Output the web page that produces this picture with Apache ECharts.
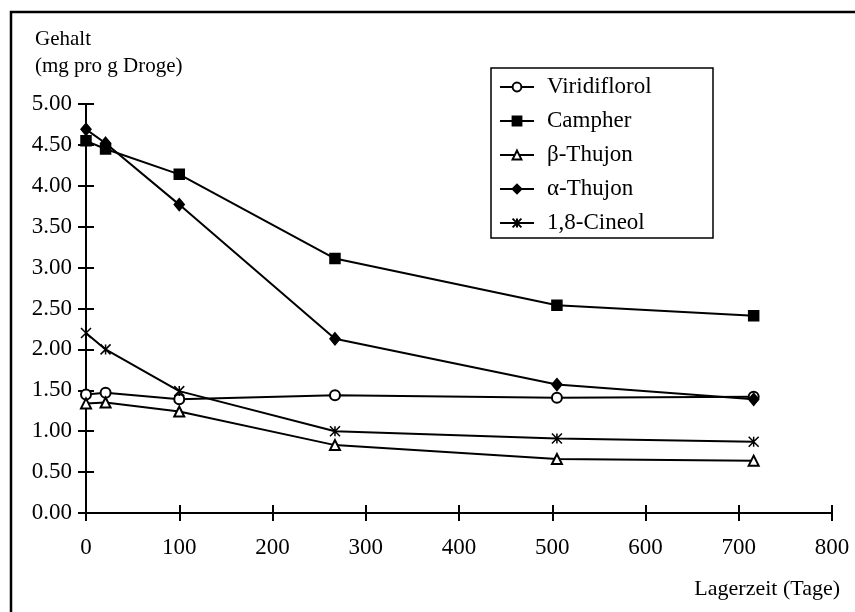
<!DOCTYPE html>
<html>
<head>
<meta charset="utf-8">
<title>Gehalt vs Lagerzeit</title>
<script src="https://cdn.jsdelivr.net/npm/echarts@6/dist/echarts.min.js"></script>
<style>
	html, body { margin: 0; padding: 0; background: #fff; }
	#chart { width: 855px; height: 612px; }
</style>
</head>
<body>
<div id="chart"></div>
<script type="text/javascript">
	// Lagerzeit in Tagen
	var days = [0, 21, 100, 267, 505, 716];
	// Gehalt in mg pro g Droge
	var viridiflorol = [1.45, 1.47, 1.39, 1.44, 1.41, 1.42];
	var campher = [4.55, 4.45, 4.14, 3.11, 2.54, 2.41];
	var betaThujon = [1.34, 1.35, 1.24, 0.83, 0.66, 0.64];
	var alphaThujon = [4.69, 4.52, 3.77, 2.13, 1.57, 1.39];
	var cineol = [2.20, 2.00, 1.49, 1.00, 0.91, 0.87];

	var names = ['Viridiflorol', 'Campher', 'β-Thujon', 'α-Thujon', '1,8-Cineol'];
	var font = '"Liberation Serif", "DejaVu Serif", serif';
	var asterisk = 'path://M0,0L10,10M10,0L0,10M5,0L5,10';

	function pairs(vals) {
		return days.map(function (d, i) { return [d, vals[i]]; });
	}

	function serie(name, vals, symbol, size) {
		return {
			name: name,
			type: 'line',
			data: pairs(vals),
			symbol: symbol,
			symbolSize: size,
			showAllSymbol: true,
			lineStyle: { color: '#000', width: 2 },
			itemStyle: { color: '#000', borderColor: '#000', borderWidth: 1.5 },
			emphasis: { disabled: true },
			animation: false
		};
	}

	var tickStyle = { color: '#000', width: 2 };

	var option = {
		backgroundColor: '#fff',
		animation: false,
		title: {
			text: 'Gehalt\n(mg pro g Droge)',
			left: 35,
			top: 26,
			padding: 0,
			textStyle: { fontFamily: font, fontSize: 21, fontWeight: 'normal', color: '#000', lineHeight: 27 }
		},
		legend: {
			data: names,
			orient: 'vertical',
			left: 499,
			top: 75,
			padding: 0,
			itemWidth: 34,
			itemHeight: 11,
			itemGap: 10,
			selectedMode: false,
			textStyle: { fontFamily: font, fontSize: 23, color: '#000', lineHeight: 24, padding: [0, 0, 0, 8] }
		},
		grid: { left: 86, right: 23, top: 104, bottom: 99 },
		xAxis: [{
			type: 'value',
			min: 0,
			max: 800,
			interval: 100,
			splitLine: { show: false },
			axisLine: { show: true, lineStyle: { color: '#000', width: 2 } },
			axisTick: { show: true, length: 8, lineStyle: tickStyle },
			axisLabel: { color: '#000', fontFamily: font, fontSize: 23, margin: 23 }
		}, {
			type: 'value',
			position: 'bottom',
			min: 0,
			max: 800,
			interval: 100,
			splitLine: { show: false },
			axisLine: { show: false },
			axisTick: { show: true, inside: true, length: 8, lineStyle: tickStyle },
			axisLabel: { show: false }
		}],
		yAxis: [{
			type: 'value',
			min: 0,
			max: 5,
			interval: 0.5,
			splitLine: { show: false },
			axisLine: { show: true, lineStyle: { color: '#000', width: 2 } },
			axisTick: { show: true, length: 8, lineStyle: tickStyle },
			axisLabel: {
				color: '#000', fontFamily: font, fontSize: 23, margin: 14,
				formatter: function (v) { return v.toFixed(2); }
			}
		}, {
			type: 'value',
			position: 'left',
			min: 0,
			max: 5,
			interval: 0.5,
			splitLine: { show: false },
			axisLine: { show: false },
			axisTick: { show: true, inside: true, length: 8, lineStyle: tickStyle },
			axisLabel: { show: false }
		}],
		graphic: [{
			type: 'rect',
			shape: { x: 11, y: 12, width: 900, height: 700 },
			style: { fill: 'none', stroke: '#000', lineWidth: 2.5 },
			silent: true
		}, {
			type: 'rect',
			shape: { x: 491, y: 68, width: 222, height: 170 },
			style: { fill: 'none', stroke: '#000', lineWidth: 1.5 },
			silent: true
		}, {
			type: 'text',
			x: 840,
			y: 589,
			style: {
				text: 'Lagerzeit (Tage)', fill: '#000', font: '22px ' + font,
				textAlign: 'right', textVerticalAlign: 'middle'
			},
			silent: true
		}],
		series: [
			serie(names[0], viridiflorol, 'emptyCircle', 10),
			serie(names[1], campher, 'rect', 10),
			serie(names[2], betaThujon, 'emptyTriangle', 10),
			serie(names[3], alphaThujon, 'diamond', [10, 12]),
			serie(names[4], cineol, asterisk, 10)
		]
	};

	var myChart = echarts.init(document.getElementById('chart'), null, { renderer: 'canvas' });
	myChart.setOption(option);
</script>
</body>
</html>
